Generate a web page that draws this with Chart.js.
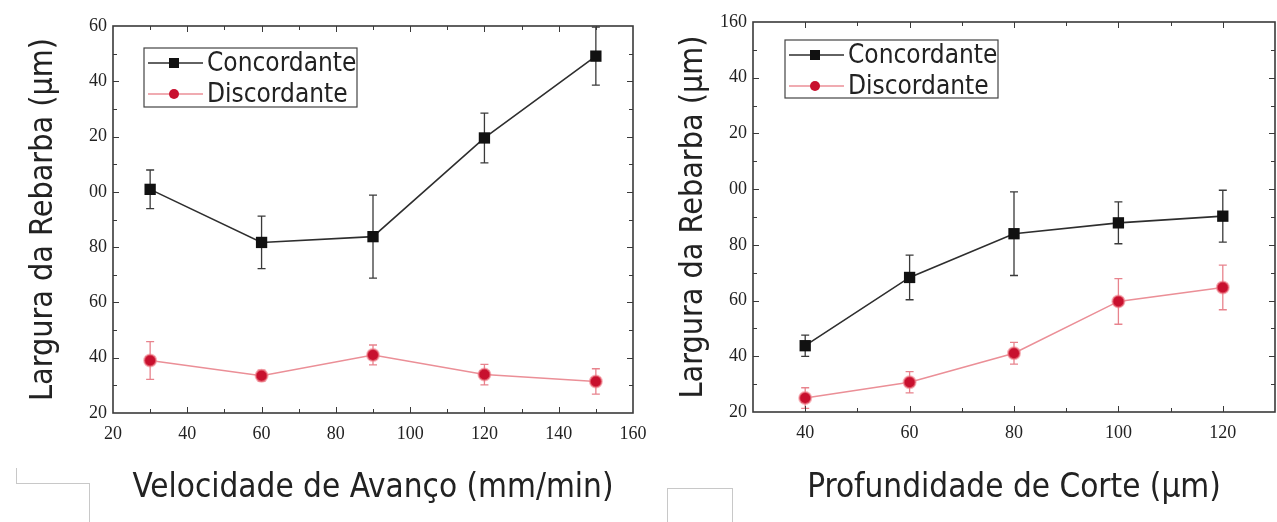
<!DOCTYPE html>
<html>
<head>
<meta charset="utf-8">
<script src="https://cdn.jsdelivr.net/npm/chart.js@4.4.1/dist/chart.umd.min.js"></script>
<style>
  body { margin: 0; background: #fff; }
  #wrap { position: relative; width: 1277px; height: 522px; overflow: hidden; }
  canvas { position: absolute; top: 0; }
  .mark { position: absolute; border-color: #c8c8c8; border-style: solid; border-width: 0; }
</style>
</head>
<body>
<div id="wrap">
  <canvas id="chart-velocidade" width="660" height="522" style="left:0"></canvas>
  <canvas id="chart-profundidade" width="618" height="522" style="left:660px"></canvas>
  <div class="mark" style="left:16px;top:468px;width:0;height:15px;border-left-width:1px"></div>
  <div class="mark" style="left:16px;top:483px;width:73px;height:40px;border-top-width:1px;border-right-width:1px"></div>
  <div class="mark" style="left:667px;top:488px;width:64px;height:40px;border-top-width:1px;border-left-width:1px;border-right-width:1px"></div>
</div>
<script>
// Largura da rebarba x velocidade de avanço
const velocidade = [30, 60, 90, 120, 150];
const concVel = [100.9, 81.7, 83.8, 119.5, 149.1];
const concVelErr = [7, 9.5, 15, 9, 10.5];
const discVel = [39.0, 33.5, 41.0, 33.9, 31.4];
const discVelErr = [6.8, 2, 3.6, 3.7, 4.6];

// Largura da rebarba x profundidade de corte
const profundidade = [40, 60, 80, 100, 120];
const concProf = [43.8, 68.3, 84.0, 87.9, 90.3];
const concProfErr = [3.8, 8, 15, 7.5, 9.3];
const discProf = [25.0, 30.7, 41.1, 59.7, 64.7];
const discProfErr = [3.7, 3.8, 3.9, 8.2, 8];

// ticks (labels are clipped on the left in the original figure)
const yTicks = [20, 40, 60, 80, 100, 120, 140, 160];
const yLabelsVel = ['20', '40', '60', '80', '00', '20', '40', '60'];
const yLabelsProf = ['20', '40', '60', '80', '00', '20', '40', '160'];
const xTicksVel = [20, 40, 60, 80, 100, 120, 140, 160];
const xTicksProf = [40, 60, 80, 100, 120];

const SANS = "'DejaVu Sans Condensed', 'DejaVu Sans', sans-serif";
const SERIF = "'Liberation Serif', serif";

// barras de erro
const errorBars = {
  id: 'errorBars',
  beforeDatasetsDraw(chart) {
    const { ctx, scales: { x, y } } = chart;
    ctx.save();
    chart.data.datasets.forEach(ds => {
      ctx.strokeStyle = ds.errorColor;
      ctx.lineWidth = 1.3;
      ds.data.forEach((p, i) => {
        const px = x.getPixelForValue(p.x);
        const top = y.getPixelForValue(p.y + ds.errors[i]);
        const bot = y.getPixelForValue(p.y - ds.errors[i]);
        ctx.beginPath();
        ctx.moveTo(px, top); ctx.lineTo(px, bot);
        ctx.moveTo(px - 4, top); ctx.lineTo(px + 4, top);
        ctx.moveTo(px - 4, bot); ctx.lineTo(px + 4, bot);
        ctx.stroke();
      });
    });
    ctx.restore();
  }
};

// moldura com ticks para dentro nos quatro lados
const frameTicks = {
  id: 'frameTicks',
  afterDatasetsDraw(chart, args, opts) {
    const { ctx, chartArea: a, scales: { x, y } } = chart;
    ctx.save();
    ctx.strokeStyle = '#3a3a3a';
    ctx.lineWidth = 1;
    const seg = (x1, y1, x2, y2) => { ctx.beginPath(); ctx.moveTo(x1, y1); ctx.lineTo(x2, y2); ctx.stroke(); };
    for (let v = x.min + 10; v < x.max; v += 10) {
      const px = Math.round(x.getPixelForValue(v)) + 0.5;
      const len = opts.xMajor.includes(v) ? 6 : 4;
      seg(px, a.bottom, px, a.bottom - len);
      seg(px, a.top, px, a.top + len);
    }
    for (let v = y.min + 10; v < y.max; v += 10) {
      const py = Math.round(y.getPixelForValue(v)) + 0.5;
      const len = v % 20 === 0 ? 6 : 4;
      seg(a.left, py, a.left + len, py);
      seg(a.right, py, a.right - len, py);
    }
    ctx.lineWidth = 1.6;
    ctx.strokeRect(a.left, a.top, a.right - a.left, a.bottom - a.top);
    ctx.restore();
  }
};

// legenda dentro da área do gráfico
const boxLegend = {
  id: 'boxLegend',
  afterDraw(chart, args, opts) {
    const { ctx, chartArea: a } = chart;
    const bx = a.left + opts.dx, by = a.top + opts.dy;
    ctx.save();
    ctx.strokeStyle = '#444';
    ctx.lineWidth = 1.2;
    ctx.strokeRect(bx, by, opts.w, opts.h);
    ctx.font = '26px ' + SANS;
    ctx.textBaseline = 'middle';
    chart.data.datasets.forEach((ds, i) => {
      const ry = by + 15 + i * 31;
      ctx.strokeStyle = ds.borderColor;
      ctx.lineWidth = 1.5;
      ctx.beginPath(); ctx.moveTo(bx + 4, ry); ctx.lineTo(bx + 59, ry); ctx.stroke();
      ctx.fillStyle = ds.pointBackgroundColor;
      if (ds.pointStyle === 'rect') {
        ctx.fillRect(bx + 25, ry - 5, 10, 10);
      } else {
        ctx.beginPath(); ctx.arc(bx + 30, ry, 5, 0, Math.PI * 2); ctx.fill();
      }
      ctx.fillStyle = '#222';
      ctx.fillText(ds.label, bx + 63, ry + 1);
    });
    ctx.restore();
  }
};

function pares(xs, ys) {
  return xs.map((v, i) => ({ x: v, y: ys[i] }));
}

function series(xs, conc, concErr, disc, discErr) {
  return [
    {
      label: 'Concordante', data: pares(xs, conc), errors: concErr,
      borderColor: '#2e2e2e', borderWidth: 1.6, errorColor: '#3a3a3a',
      pointStyle: 'rect', pointRadius: 8, pointBackgroundColor: '#111', pointBorderColor: '#111', pointBorderWidth: 0
    },
    {
      label: 'Discordante', data: pares(xs, disc), errors: discErr,
      borderColor: '#eb8f97', borderWidth: 1.6, errorColor: '#e8838d',
      pointStyle: 'circle', pointRadius: 6, pointBackgroundColor: '#c8102e',
      pointBorderColor: 'rgba(240,130,140,0.6)', pointBorderWidth: 2
    }
  ];
}

function criarGrafico(id, xs, conc, concErr, disc, discErr, cfg) {
  const ctx = document.getElementById(id).getContext('2d');
  return new Chart(ctx, {
    type: 'line',
    data: { datasets: series(xs, conc, concErr, disc, discErr) },
    plugins: [errorBars, frameTicks, boxLegend],
    options: {
      responsive: false,
      animation: false,
      devicePixelRatio: 1,
      layout: { autoPadding: false, padding: { left: 0, top: cfg.top, right: cfg.right, bottom: 0 } },
      plugins: {
        legend: { display: false },
        tooltip: { enabled: false },
        frameTicks: { xMajor: cfg.xTicks },
        boxLegend: cfg.legend
      },
      scales: {
        x: {
          type: 'linear', min: cfg.xMin, max: cfg.xMax,
          afterBuildTicks: s => { s.ticks = cfg.xTicks.map(v => ({ value: v })); },
          afterFit: s => { s.height = 522 - cfg.bottom; s.paddingLeft = 0; s.paddingRight = 0; },
          grid: { display: false, drawTicks: false },
          border: { display: false },
          ticks: { padding: 10, color: '#222', font: { family: SERIF, size: 18 } },
          title: {
            display: true, text: cfg.xTitle, color: '#222',
            font: { family: SANS, size: 33 }, padding: { top: 0, bottom: 14 }
          }
        },
        y: {
          type: 'linear', min: 20, max: 160,
          afterBuildTicks: s => { s.ticks = yTicks.map(v => ({ value: v })); },
          afterFit: s => { s.width = cfg.yWidth; s.paddingTop = 0; s.paddingBottom = 0; },
          grid: { display: false, drawTicks: false },
          border: { display: false },
          ticks: {
            padding: 6, color: '#222', font: { family: SERIF, size: 18 },
            callback: v => cfg.yLabels[yTicks.indexOf(v)]
          },
          title: {
            display: true, text: 'Largura da Rebarba (µm)', color: '#222',
            font: { family: SANS, size: 32 }, padding: { top: cfg.yTitlePad, bottom: 0 }
          }
        }
      }
    }
  });
}

criarGrafico('chart-velocidade', velocidade, concVel, concVelErr, discVel, discVelErr, {
  top: 26, right: 27, bottom: 413, yWidth: 113, yTitlePad: 24,
  xMin: 20, xMax: 160, xTicks: xTicksVel, yLabels: yLabelsVel,
  xTitle: 'Velocidade de Avanço (mm/min)',
  legend: { dx: 31, dy: 22, w: 213, h: 59 }
});

criarGrafico('chart-profundidade', profundidade, concProf, concProfErr, discProf, discProfErr, {
  top: 22, right: 3, bottom: 412, yWidth: 93, yTitlePad: 14,
  xMin: 30, xMax: 130, xTicks: xTicksProf, yLabels: yLabelsProf,
  xTitle: 'Profundidade de Corte (µm)',
  legend: { dx: 32, dy: 18, w: 213, h: 58 }
});
</script>
</body>
</html>
